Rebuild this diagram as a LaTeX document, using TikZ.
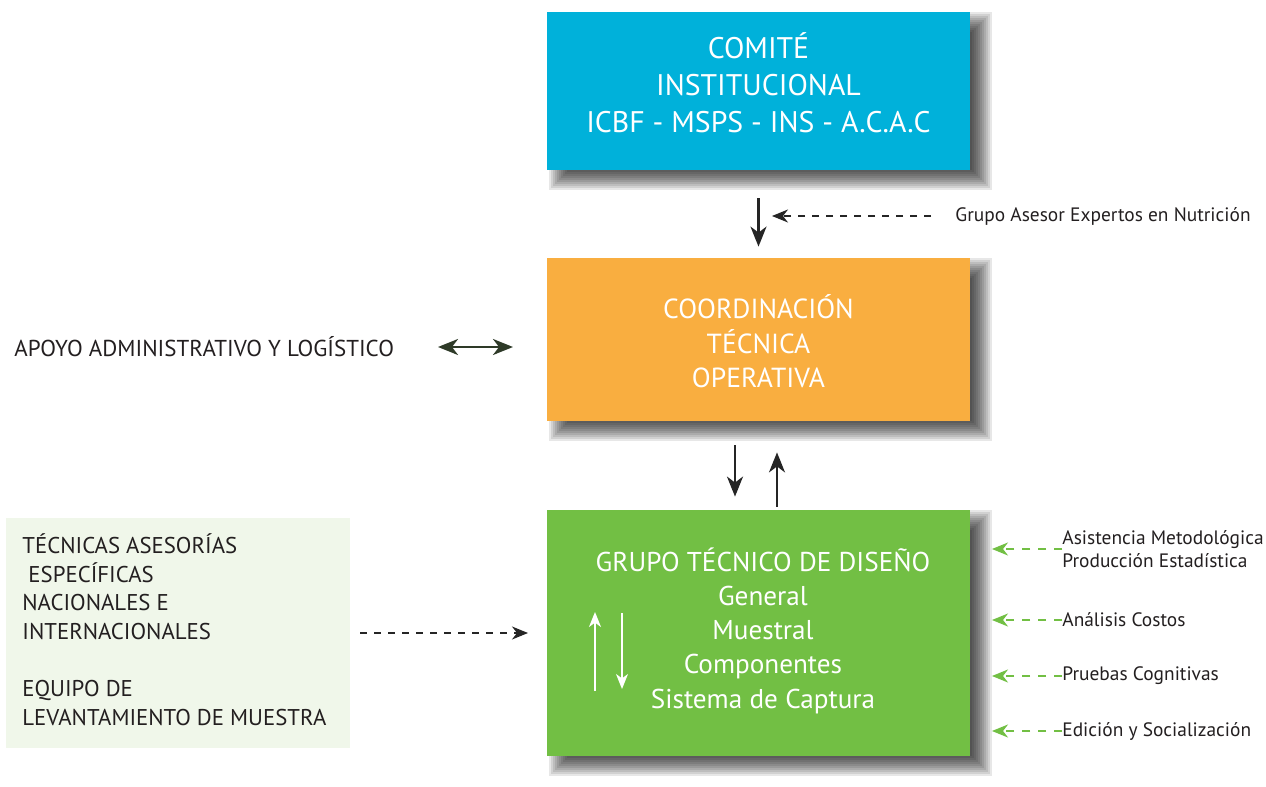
\documentclass[tikz,border=0pt]{standalone}
\usepackage{fontspec}
\setmainfont{PT Sans}
\usetikzlibrary{arrows.meta}
\pgfdeclarelayer{bg}
\pgfsetlayers{bg,main}
\definecolor{cblue}{HTML}{00B1DA}
\definecolor{corange}{HTML}{F9AE40}
\definecolor{cgreen}{HTML}{72BF44}
\definecolor{clight}{HTML}{F0F7EA}
\definecolor{ctext}{HTML}{231F20}
\definecolor{carrow}{HTML}{252525}
\definecolor{colive}{HTML}{2E3A28}
\begin{document}
\begin{tikzpicture}[x=0.5pt,y=-0.5pt,
  box/.style={draw=none,minimum width=211.5pt,inner sep=0pt},
  boxtxt/.style={text=white,align=center,inner sep=0pt},
  side/.style={text=ctext,inner sep=0pt,anchor=west},
  small/.style={side,font=\fontsize{9.7}{11.5}\selectfont},
  bigtip/.tip={Stealth[length=10pt,width=8pt,inset=3pt]},
  solidarr/.style={-bigtip,line width=1.2pt,draw=carrow},
  dasharr/.style={-{Stealth[length=8pt,width=6.5pt,inset=2.5pt]},line width=0.6pt,draw=carrow,dash pattern=on 3.5pt off 3.5pt},
  greenarr/.style={-{Stealth[length=8pt,width=6.5pt,inset=2.5pt]},line width=0.8pt,draw=cgreen,dash pattern=on 4pt off 4pt},
  shadowlayer/.style={fill=black,opacity=0.095},
]
\useasboundingbox (0,0) rectangle (1266,787);

% boxes
\node[box,fill=cblue,minimum height=79pt] (blue) at (758.5,91) {};
\node[box,fill=corange,minimum height=81.5pt] (orange) at (758.5,339.5) {};
\node[box,fill=cgreen,minimum height=123pt] (green) at (758.5,633) {};
\node[fill=clight,minimum width=172pt,minimum height=115pt,inner sep=0pt] (light) at (178,633) {};

% white page and soft shadows behind the three main boxes
\begin{pgfonlayer}{bg}
\fill[white] (0,0) rectangle (1266,787);
\foreach \n in {blue,orange,green}{
  \foreach \i [evaluate=\i as \d using 5-\i] in {0,...,10}{
    \fill[shadowlayer] ([xshift={(6-\d)*1pt},yshift={(-5+\d)*1pt}]\n.north west)
      rectangle ([xshift={(6+\d)*1pt},yshift={(-5-\d)*1pt}]\n.south east);
  }
}
\end{pgfonlayer}

% box texts
\node[boxtxt,font=\fontsize{14.9}{18.6}\selectfont] (bluet) at (758.5,83) {COMITÉ\\INSTITUCIONAL\\ICBF - MSPS - INS - A.C.A.C};
\node[boxtxt,font=\fontsize{13.8}{17.2}\selectfont] (oranget) at (758.5,341.5) {COORDINACIÓN\\TÉCNICA\\OPERATIVA};
\node[boxtxt,font=\fontsize{13.6}{17.1}\selectfont] (greent) at (763,630.5) {GRUPO TÉCNICO DE DISEÑO\\General\\Muestral\\Componentes\\Sistema de Captura};

% left box text
\node[side,align=left,anchor=north west,font=\fontsize{11.4}{14.3}\selectfont] (lightt) at (22,533.5) {TÉCNICAS ASESORÍAS\\\ ESPECÍFICAS\\NACIONALES E\\INTERNACIONALES\\[14.3pt]EQUIPO DE\\LEVANTAMIENTO DE MUESTRA};

% side labels
\node[side,font=\fontsize{11.5}{13}\selectfont] (apoyo) at (14,347) {APOYO ADMINISTRATIVO Y LOGÍSTICO};
\node[small] (grupo) at (955,216) {Grupo Asesor Expertos en Nutrición};
\node[small,align=left,anchor=west] (asis) at (1062,549) {Asistencia Metodológica\\Producción Estadística};
\node[small] (anal) at (1062,620) {Análisis Costos};
\node[small] (prue) at (1062,676) {Pruebas Cognitivas};
\node[small] (edic) at (1062,731) {Edición y Socialización};

% connectors
\draw[solidarr] ([yshift=-14pt]blue.south) -- ([yshift=5.5pt]orange.north);
\coordinate (gaend) at (772,216);
\draw[dasharr] ([xshift=-12pt]grupo.west) -- (gaend);
\coordinate (apL) at (438,347);
\coordinate (apR) at (513,347);
\draw[bigtip-bigtip,line width=1.2pt,draw=colive,fill=carrow] (apL) -- (apR);
\draw[solidarr] ([xshift=-11.75pt,yshift=-12pt]orange.south) -- ([xshift=-11.75pt,yshift=6.5pt]green.north);
\draw[solidarr] ([xshift=9.25pt,yshift=1.5pt]green.north) -- ([xshift=9.25pt,yshift=-15.5pt]orange.south);
\coordinate (lgA) at (360,633);
\coordinate (lgB) at (528,633);
\draw[dasharr] (lgA) -- (lgB);

% white arrows inside green box
\coordinate (wu1) at (595,691);
\coordinate (wu2) at (595,612);
\coordinate (wd1) at (622,613);
\coordinate (wd2) at (622,689);
\draw[-{Stealth[length=7.5pt,width=6pt,inset=2.2pt]},line width=0.8pt,draw=white] (wu1) -- (wu2);
\draw[-{Stealth[length=7.5pt,width=6pt,inset=2.2pt]},line width=0.8pt,draw=white] (wd1) -- (wd2);

% green dashed arrows
\coordinate (g1) at (992,549);
\coordinate (g2) at (992,620);
\coordinate (g3) at (992,676);
\coordinate (g4) at (992,731);
\draw[greenarr] (asis.west) -- (g1);
\draw[greenarr] (anal.west) -- (g2);
\draw[greenarr] (prue.west) -- (g3);
\draw[greenarr] (edic.west) -- (g4);
\end{tikzpicture}
\end{document}
